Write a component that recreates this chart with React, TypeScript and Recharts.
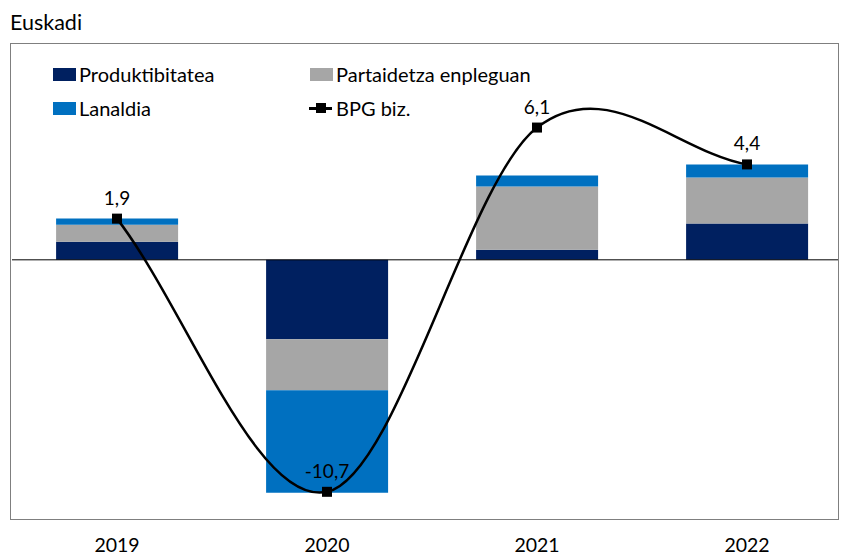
import React from "react";
import {
  ComposedChart,
  Bar,
  Line,
  XAxis,
  YAxis,
  ReferenceLine,
  LabelList,
} from "recharts";

const years = ["2019", "2020", "2021", "2022"];
const produktibitatea = [0.83, -3.66, 0.46, 1.67];
const partaidetza = [0.79, -2.36, 2.92, 2.13];
const lanaldia = [0.28, -4.72, 0.51, 0.6];
const bpg = [1.9, -10.7, 6.1, 4.4];

const FONT = "Lato, 'Noto Sans', sans-serif";
const C_PROD = "#002060";
const C_PART = "#A6A6A6";
const C_LAN = "#0070C0";

const data = years.map((y, i) => ({
  year: y,
  prod: produktibitatea[i],
  part: partaidetza[i],
  lan: lanaldia[i],
  bpg: bpg[i],
}));

// smoothed line like the spreadsheet one: catmull-rom inside, full chord at the ends
const smoothCurve = (ctx: any) => {
  let pts: [number, number][] = [];
  return {
    areaStart() {},
    areaEnd() {},
    lineStart() {
      pts = [];
    },
    point(x: number, y: number) {
      pts.push([+x, +y]);
    },
    lineEnd() {
      const n = pts.length;
      if (!n) return;
      ctx.moveTo(pts[0][0], pts[0][1]);
      if (n === 1) return;
      const tan = pts.map((_, i) => {
        const a = pts[Math.max(0, i - 1)];
        const b = pts[Math.min(n - 1, i + 1)];
        const k = i === 0 || i === n - 1 ? 1 : 0.5;
        return [(b[0] - a[0]) * k, (b[1] - a[1]) * k];
      });
      for (let i = 0; i < n - 1; i++) {
        const p = pts[i];
        const q = pts[i + 1];
        ctx.bezierCurveTo(
          p[0] + tan[i][0] / 3,
          p[1] + tan[i][1] / 3,
          q[0] - tan[i + 1][0] / 3,
          q[1] - tan[i + 1][1] / 3,
          q[0],
          q[1]
        );
      }
    },
  };
};

const SquareDot = (props: any) => {
  const { cx, cy } = props;
  if (cx == null || cy == null) return null;
  return <rect x={cx - 5} y={cy - 5} width={10} height={10} fill="#000" />;
};

const legendText: React.CSSProperties = {
  position: "absolute",
  fontFamily: FONT,
  fontSize: 20,
  color: "#000",
  lineHeight: "20px",
};

export default function App() {
  return (
    <div
      style={{
        position: "absolute",
        left: 0,
        top: 0,
        width: 841,
        height: 556,
        background: "#fff",
        fontFamily: FONT,
        overflow: "hidden",
      }}
    >
      <div style={{ ...legendText, left: 10, top: 12, fontSize: 21.5 }}>Euskadi</div>
      <ComposedChart
        width={841}
        height={556}
        data={data}
        margin={{ top: 43, right: -11, left: 12, bottom: 0 }}
        barCategoryGap="21%"
      >
        <XAxis
          dataKey="year"
          axisLine={false}
          tickLine={false}
          height={36}
          tickMargin={12}
          tick={{ fontSize: 19.5, fill: "#000", fontFamily: FONT }}
        />
        <YAxis hide domain={[-12, 10]} />
        <Bar dataKey="prod" stackId="a" fill={C_PROD} isAnimationActive={false} />
        <Bar dataKey="part" stackId="a" fill={C_PART} isAnimationActive={false} />
        <Bar dataKey="lan" stackId="a" fill={C_LAN} isAnimationActive={false} />
        <ReferenceLine y={0} stroke="#000" strokeWidth={1} />
        <Line
          dataKey="bpg"
          type={smoothCurve as any}
          stroke="#000"
          strokeWidth={2.5}
          dot={<SquareDot />}
          activeDot={false}
          isAnimationActive={false}
        >
          <LabelList
            dataKey="bpg"
            position="top"
            offset={14}
            formatter={(v: any) => String(v).replace(".", ",")}
            style={{ fontSize: 19, fill: "#000", fontFamily: FONT }}
          />
        </Line>
      </ComposedChart>
      {/* hide the part of the plot that runs past the frame */}
      <div style={{ position: "absolute", left: 839, top: 0, width: 2, height: 556, background: "#fff" }} />
      <div
        style={{
          position: "absolute",
          left: 10,
          top: 43,
          width: 829,
          height: 477,
          border: "1px solid #7f7f7f",
          boxSizing: "border-box",
          pointerEvents: "none",
        }}
      />
      <div style={{ position: "absolute", left: 53, top: 68, width: 23, height: 13, background: C_PROD }} />
      <div style={{ ...legendText, left: 79, top: 64 }}>Produktibitatea</div>
      <div style={{ position: "absolute", left: 310, top: 68, width: 23, height: 13, background: C_PART }} />
      <div style={{ ...legendText, left: 336, top: 64 }}>Partaidetza enpleguan</div>
      <div style={{ position: "absolute", left: 53, top: 102, width: 23, height: 13, background: C_LAN }} />
      <div style={{ ...legendText, left: 79, top: 98 }}>Lanaldia</div>
      <div style={{ position: "absolute", left: 309, top: 107, width: 23, height: 3, background: "#000" }} />
      <div style={{ position: "absolute", left: 316, top: 103, width: 10, height: 10, background: "#000" }} />
      <div style={{ ...legendText, left: 336, top: 98 }}>BPG biz.</div>
    </div>
  );
}
